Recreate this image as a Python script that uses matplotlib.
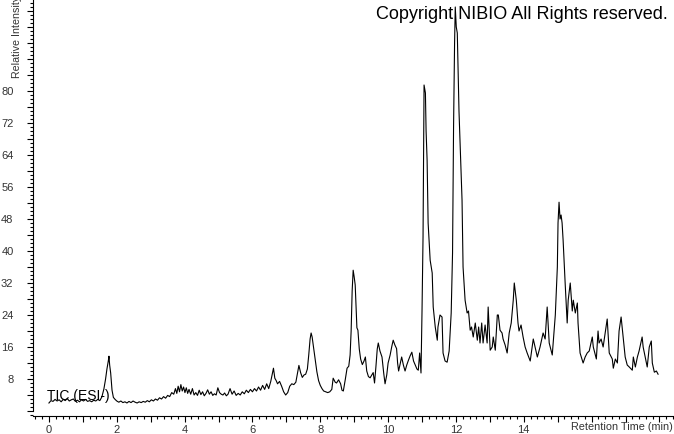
import matplotlib
matplotlib.use("Agg")
import matplotlib.pyplot as plt
from matplotlib.ticker import MultipleLocator, FuncFormatter

plt.rcParams['font.family'] = ['Liberation Sans', 'DejaVu Sans']

# Retention time (min)
time_min = [
    0.00, 0.06, 0.12, 0.18, 0.24, 0.30, 0.36, 0.42, 0.48, 0.54, 0.60, 0.66, 0.72, 0.78, 0.84, 0.90,
    0.96, 1.02, 1.08, 1.14, 1.20, 1.26, 1.32, 1.38, 1.44, 1.50, 1.56, 1.62, 1.67, 1.71, 1.75, 1.77,
    1.79, 1.82, 1.86, 1.90, 1.95, 2.00,
    2.06, 2.12, 2.18, 2.24, 2.30, 2.36, 2.42, 2.48, 2.54, 2.60, 2.66, 2.72, 2.78, 2.84, 2.90, 2.96,
    3.02, 3.08, 3.14, 3.20, 3.26, 3.32, 3.38, 3.44, 3.50, 3.56, 3.62,
    3.68, 3.73, 3.77, 3.81, 3.85, 3.89, 3.93, 3.97, 4.01, 4.05, 4.09, 4.13, 4.18, 4.23, 4.28, 4.33,
    4.38, 4.43, 4.48, 4.53, 4.58, 4.63, 4.68, 4.73, 4.78, 4.83, 4.88, 4.93, 4.98, 5.03, 5.08, 5.13,
    5.18, 5.23, 5.28, 5.34, 5.40, 5.46, 5.52, 5.58, 5.64,
    5.70, 5.76, 5.82, 5.88, 5.94, 6.00, 6.06, 6.12, 6.18, 6.24, 6.30, 6.36, 6.42, 6.48, 6.54, 6.58,
    6.62, 6.66, 6.70, 6.74, 6.80, 6.86, 6.92, 6.98, 7.04, 7.10, 7.16, 7.22, 7.28, 7.33, 7.37, 7.42,
    7.47, 7.52, 7.57, 7.62, 7.66, 7.70, 7.73, 7.76, 7.80, 7.85, 7.90, 7.95, 8.00, 8.05, 8.10, 8.16,
    8.22, 8.28, 8.34, 8.38, 8.44, 8.48, 8.54, 8.60, 8.64, 8.68, 8.74, 8.79, 8.84, 8.88, 8.91, 8.94,
    8.97, 9.00, 9.03, 9.06, 9.08, 9.11, 9.15, 9.19, 9.24, 9.29, 9.33, 9.37, 9.42, 9.47, 9.52, 9.56,
    9.60, 9.64, 9.68, 9.71, 9.76, 9.82, 9.87, 9.91, 9.96, 10.00, 10.06, 10.11, 10.15, 10.20, 10.25,
    10.28, 10.31, 10.36, 10.40, 10.45, 10.50, 10.55, 10.60, 10.65, 10.70, 10.75, 10.80, 10.85, 10.89,
    10.93, 10.97, 11.00, 11.03, 11.06, 11.10, 11.12, 11.15, 11.18, 11.24, 11.30, 11.33, 11.39, 11.45,
    11.47, 11.53, 11.59, 11.62, 11.68, 11.74, 11.80, 11.86, 11.90, 11.93, 11.96, 11.98, 12.01, 12.04,
    12.09, 12.15, 12.18, 12.21, 12.27, 12.33, 12.37, 12.42, 12.46, 12.51, 12.57, 12.63, 12.67, 12.71,
    12.76, 12.80, 12.86, 12.92, 12.95, 13.01, 13.07, 13.10, 13.16, 13.22, 13.25, 13.30, 13.36, 13.39,
    13.45, 13.51, 13.57, 13.63, 13.69, 13.72, 13.78, 13.83, 13.86, 13.92, 13.98, 14.04, 14.10, 14.19,
    14.28, 14.40, 14.48, 14.57, 14.63, 14.69, 14.75, 14.84, 14.93, 14.99, 15.01, 15.04, 15.07, 15.10,
    15.13, 15.16, 15.22, 15.28, 15.31, 15.37, 15.43, 15.46, 15.52, 15.58, 15.60, 15.66, 15.75, 15.81,
    15.87, 15.93, 16.02, 16.05, 16.14, 16.19, 16.22, 16.28, 16.34, 16.40, 16.46, 16.52, 16.61, 16.64,
    16.70, 16.76, 16.81, 16.87, 16.93, 16.99, 17.05, 17.11, 17.20, 17.23, 17.29, 17.35, 17.40, 17.49,
    17.52, 17.58, 17.64, 17.70, 17.76, 17.79, 17.85, 17.91, 17.96,
]

# Relative intensity (%)
intensity = [
    2.0, 2.6, 2.4, 2.9, 2.5, 2.8, 2.3, 2.9, 2.6, 3.1, 2.5, 2.8, 3.0, 2.4, 2.7, 2.3,
    2.8, 2.5, 2.9, 2.4, 2.6, 2.3, 2.7, 2.5, 2.9, 2.6, 3.5, 5.5, 8.0, 10.5, 12.5, 13.7,
    11.5, 9.5, 5.2, 3.4, 2.9, 2.5,
    2.2, 2.5, 2.1, 2.3, 2.0, 2.4, 2.1, 2.5, 2.2, 2.0, 2.3, 2.1, 2.4, 2.2, 2.6, 2.3,
    2.8, 2.5, 3.0, 2.7, 3.3, 3.0, 3.6, 3.2, 3.9, 3.6, 4.6,
    4.2, 5.6, 4.4, 6.2, 4.8, 6.6, 5.0, 6.0, 4.6, 5.8, 4.4, 5.4, 4.2, 5.6, 4.0, 4.6,
    3.9, 5.2, 4.1, 4.8, 3.8, 4.4, 5.3, 4.2, 4.8, 3.9, 4.3, 4.0, 5.8, 4.6, 4.2, 4.0,
    4.5, 3.8, 4.2, 5.6, 4.2, 5.0, 3.9, 4.4, 4.0,
    4.8, 4.3, 5.2, 4.6, 5.4, 4.8, 5.6, 5.0, 6.0, 5.2, 6.4, 5.4, 6.8, 5.6, 7.4, 9.0,
    10.7, 8.2, 7.6, 6.8, 7.4, 6.2, 4.8, 4.0, 4.6, 6.2, 6.8, 6.6, 7.2, 9.5, 11.4, 9.6,
    8.4, 9.0, 9.2, 10.5, 14.0, 18.0, 19.5, 18.5, 16.0, 13.0, 9.8, 7.6, 6.4, 5.6, 5.0, 4.8,
    4.6, 4.8, 5.4, 8.2, 7.2, 7.0, 7.8, 6.8, 5.2, 5.0, 8.0, 10.7, 11.2, 14.0, 20.0, 30.0,
    35.2, 33.5, 31.5, 25.0, 20.8, 20.2, 15.5, 13.0, 11.6, 12.5, 13.5, 10.0, 8.6, 8.3, 9.0, 9.6,
    7.0, 11.0, 15.5, 17.0, 15.0, 13.5, 9.5, 6.8, 9.0, 12.0, 14.0, 16.2, 17.7, 16.5, 15.6,
    12.0, 10.0, 12.0, 13.5, 11.5, 10.0, 11.5, 12.7, 13.8, 14.7, 12.5, 11.5, 10.5, 10.2,
    14.5, 9.5, 25.0, 43.5, 81.5, 79.5, 70.0, 62.7, 47.0, 37.7, 34.5, 26.0, 21.0, 17.7,
    21.0, 24.0, 23.5, 14.5, 12.5, 12.2, 15.0, 24.5, 39.5, 71.0, 92.0, 101.0, 96.0, 94.5,
    75.0, 60.0, 52.7, 36.0, 27.7, 24.5, 25.0, 20.2, 21.0, 18.5, 22.0, 17.7, 21.0, 17.0,
    22.0, 17.0, 21.5, 17.0, 26.0, 15.2, 16.0, 18.5, 15.2, 24.0, 24.0, 20.2, 19.5, 18.0,
    16.5, 14.5, 19.5, 22.0, 27.7, 32.0, 27.7, 22.0, 20.0, 21.5, 18.5, 16.0, 14.5, 12.5,
    18.0, 13.5, 16.0, 19.5, 18.0, 26.0, 17.0, 14.0, 24.0, 36.0, 47.0, 52.2, 48.0, 49.0,
    47.0, 42.7, 32.0, 22.0, 27.7, 32.0, 25.0, 27.7, 24.5, 27.0, 22.0, 14.5, 12.0, 13.5,
    14.5, 15.0, 18.5, 16.0, 13.0, 20.0, 17.0, 18.0, 16.0, 19.5, 23.0, 14.5, 13.0, 10.7,
    13.0, 12.0, 20.0, 23.5, 18.5, 13.5, 11.5, 11.0, 10.2, 13.5, 11.0, 13.5, 15.0, 18.5,
    16.0, 13.5, 11.0, 16.0, 17.5, 12.0, 9.7, 10.0, 9.2,
]

x_tick_labels = ["0", "2", "4", "6", "8", "10", "12", "14"]
y_tick_labels = ["8", "16", "24", "32", "40", "48", "56", "64", "72", "80"]

fig = plt.figure(figsize=(6.74, 4.34), dpi=100)
ax = fig.add_axes([33 / 674, 18 / 434, 640 / 674, 416 / 434])

ax.plot(time_min, intensity, color="black", linewidth=0.8)

ax.set_xlim(-0.47, 18.4)
ax.set_ylim(-1.25, 102.75)

for side in ("top", "right"):
    ax.spines[side].set_visible(False)
for side in ("left", "bottom"):
    ax.spines[side].set_linewidth(0.8)
ax.spines["left"].set_bounds(0, 102.75)

xlab = {float(v): v for v in x_tick_labels}
ylab = {float(v): v for v in y_tick_labels}

ax.xaxis.set_major_locator(MultipleLocator(1))
ax.xaxis.set_minor_locator(MultipleLocator(0.2))
ax.xaxis.set_major_formatter(FuncFormatter(lambda v, p: xlab.get(round(v, 3), "")))
ax.yaxis.set_major_locator(MultipleLocator(4))
ax.yaxis.set_minor_locator(MultipleLocator(1))
ax.yaxis.set_major_formatter(FuncFormatter(lambda v, p: ylab.get(round(v, 3), "")))

ax.tick_params(axis="both", which="major", length=4, width=0.8, labelsize=8,
               labelcolor="#333333", color="black")
ax.tick_params(axis="both", which="minor", length=2, width=0.8, color="black")
ax.tick_params(axis="x", which="major", pad=2.5)
ax.tick_params(axis="y", which="major", pad=10)

fig.text(673 / 674, 1 - 427 / 434, "Retention Time (min)", ha="right", va="center",
         fontsize=7.8, color="#333333")
fig.text(17 / 674, 1 - 78 / 434, "Relative Intensity", rotation=90, ha="center", va="bottom",
         fontsize=7.7, color="#333333")
fig.text(668 / 674, 1 - 19 / 434, "Copyright NIBIO All Rights reserved.", ha="right",
         va="baseline", fontsize=13, color="black")
ax.text(-0.06, 2.75, "TIC (ESI-)", ha="left", va="baseline", fontsize=10, color="black")

fig.savefig("out.png", dpi=100)
